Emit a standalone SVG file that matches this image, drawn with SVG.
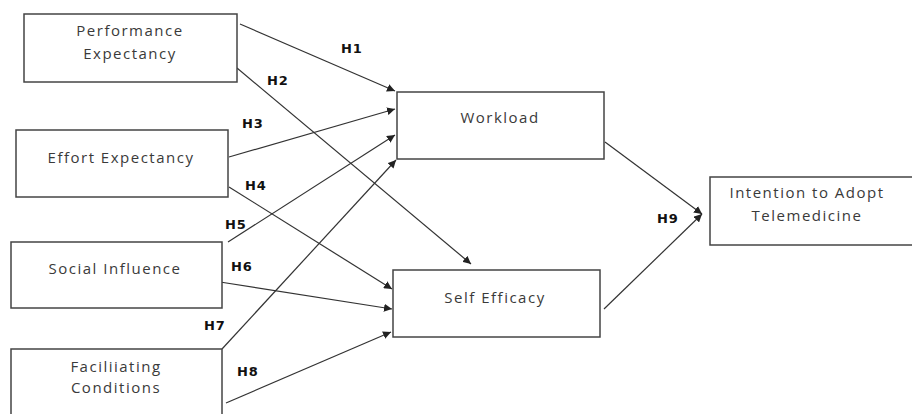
<svg xmlns="http://www.w3.org/2000/svg" width="912" height="414" viewBox="0 0 912 414">
<defs>
<marker id="ah" viewBox="0 0 10 10" refX="10" refY="5" markerWidth="8" markerHeight="8" markerUnits="userSpaceOnUse" orient="auto">
<path d="M0,0 L10,5 L0,10 z" fill="#222"/>
</marker>
<style>
.box{fill:#fff;stroke:#444;stroke-width:1.5}
.t{font-family:"Open Sans","Liberation Sans",sans-serif;font-size:15px;letter-spacing:1.5px;fill:#3a3a3a;text-anchor:middle}
.l{font-family:"DejaVu Sans","Liberation Sans",sans-serif;font-size:13px;font-weight:bold;letter-spacing:0.8px;fill:#111}
.c{stroke:#333;stroke-width:1.2;fill:none;marker-end:url(#ah)}
</style>
</defs>
<rect width="912" height="414" fill="#fff"/>
<g id="connectors">
<line class="c" x1="240" y1="24" x2="395" y2="91"/>
<line class="c" x1="237" y1="68" x2="471" y2="264"/>
<line class="c" x1="229" y1="157" x2="395" y2="109"/>
<line class="c" x1="229" y1="187" x2="392" y2="289"/>
<line class="c" x1="228" y1="242" x2="395" y2="135"/>
<line class="c" x1="220" y1="282" x2="392" y2="309"/>
<line class="c" x1="222" y1="349" x2="396" y2="160"/>
<line class="c" x1="226" y1="403" x2="391" y2="332"/>
<line class="c" x1="605" y1="142" x2="702" y2="214"/>
<line class="c" x1="604" y1="309" x2="702" y2="214"/>
</g>
<g id="labels">
<text class="l" x="341" y="53">H1</text>
<text class="l" x="267" y="85">H2</text>
<text class="l" x="242" y="128">H3</text>
<text class="l" x="245" y="190">H4</text>
<text class="l" x="225" y="229">H5</text>
<text class="l" x="231" y="271">H6</text>
<text class="l" x="204" y="330">H7</text>
<text class="l" x="237" y="376">H8</text>
<text class="l" x="657" y="223">H9</text>
</g>
<g id="performance">
<rect class="box" x="24" y="14" width="213" height="68"/>
<text class="t" x="130" y="36">Performance</text>
<text class="t" x="130" y="59">Expectancy</text>
</g>
<g id="effort">
<rect class="box" x="16" y="130" width="212" height="67"/>
<text class="t" x="121" y="163">Effort Expectancy</text>
</g>
<g id="social">
<rect class="box" x="11" y="242" width="211" height="66"/>
<text class="t" x="115" y="274">Social Influence</text>
</g>
<g id="facilitating">
<rect class="box" x="11" y="349" width="211" height="70"/>
<text class="t" x="116" y="372">Faciliiating</text>
<text class="t" x="116" y="393">Conditions</text>
</g>
<g id="workload">
<rect class="box" x="397" y="92" width="207" height="67"/>
<text class="t" x="500" y="123">Workload</text>
</g>
<g id="selfefficacy">
<rect class="box" x="393" y="270" width="207" height="67"/>
<text class="t" x="495" y="303">Self Efficacy</text>
</g>
<g id="intention">
<rect class="box" x="710" y="177" width="205" height="68"/>
<text class="t" x="807" y="198">Intention to Adopt</text>
<text class="t" x="807" y="221">Telemedicine</text>
</g>
</svg>
